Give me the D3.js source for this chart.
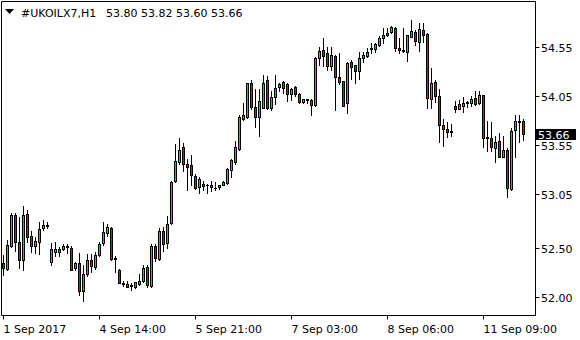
<!DOCTYPE html>
<html>
<head>
<meta charset="utf-8">
<script src="https://cdn.jsdelivr.net/npm/d3@7"></script>
<style>
  body { margin: 0; background: #fff; }
  svg { display: block; }
  text { font-family: "DejaVu Sans", sans-serif; font-size: 11px; fill: #000; }
</style>
</head>
<body>
<svg id="chart" width="580" height="340"></svg>
<script>
// hourly bars, UKOILX7 H1
var symbol = "#UKOILX7,H1";
var lastBar = ["53.80", "53.82", "53.60", "53.66"];

var open = [52.34,52.28,52.52,52.84,52.56,52.38,52.85,52.62,52.52,52.56,52.70,52.72,52.35,52.46,52.46,52.49,52.52,52.50,52.29,52.34,
  52.06,52.23,52.38,52.30,52.43,52.55,52.65,52.70,52.39,52.27,52.14,52.13,52.11,52.10,52.13,52.16,52.30,52.11,52.52,52.39,
  52.67,52.55,52.75,53.18,53.38,53.53,53.36,53.35,53.23,53.12,53.13,53.14,53.14,53.11,53.12,53.14,53.16,53.30,53.38,53.51,
  53.82,53.84,54.19,53.94,53.84,53.93,54.22,53.93,54.04,54.14,54.20,54.17,54.07,54.14,54.07,53.99,54.02,54.01,53.96,54.44,
  54.52,54.49,54.36,54.46,54.25,54.21,53.98,54.40,54.37,54.31,54.44,54.46,54.53,54.53,54.57,54.64,54.68,54.71,54.75,54.54,
  54.52,54.50,54.66,54.71,54.60,54.73,54.69,54.02,54.20,54.05,53.76,53.71,53.68,53.95,53.92,53.95,53.98,53.98,54.03,53.98,
  54.06,53.63,53.62,53.52,53.59,53.43,53.50,53.10,53.70,53.80,53.80];
var high = [52.43,52.58,52.86,52.86,52.81,52.93,52.89,52.67,52.61,52.76,52.78,52.76,52.55,52.56,52.51,52.54,52.54,52.52,52.35,52.45,
  52.32,52.44,52.44,52.46,52.56,52.76,52.74,52.71,52.42,52.28,52.16,52.16,52.14,52.15,52.23,52.32,52.32,52.54,52.54,52.70,
  52.71,52.83,53.18,53.56,53.62,53.57,53.41,53.45,53.25,53.22,53.18,53.15,53.18,53.17,53.14,53.18,53.32,53.41,53.59,53.86,
  53.98,54.19,54.22,54.12,54.12,54.27,54.26,54.10,54.27,54.18,54.21,54.18,54.13,54.15,54.08,54.02,54.02,54.02,54.45,54.55,
  54.64,54.55,54.55,54.47,54.49,54.21,54.40,54.42,54.37,54.50,54.50,54.54,54.59,54.59,54.67,54.75,54.75,54.77,54.76,54.64,
  54.75,54.68,54.83,54.73,54.80,54.80,54.70,54.34,54.22,54.12,53.82,53.79,53.77,54.00,54.01,54.04,54.00,54.05,54.10,54.10,
  54.06,53.80,53.79,53.64,53.67,53.64,53.52,53.72,53.86,53.86,53.82];
var low = [52.22,52.27,52.51,52.47,52.29,52.27,52.56,52.46,52.45,52.44,52.68,52.70,52.32,52.42,52.42,52.48,52.45,52.27,52.27,52.02,
  51.96,52.21,52.25,52.28,52.42,52.53,52.62,52.38,52.25,52.14,52.11,52.10,52.07,52.09,52.12,52.15,52.10,52.10,52.36,52.38,
  52.47,52.50,52.74,53.17,53.36,53.29,53.09,53.14,53.10,53.06,53.09,53.06,53.08,53.09,53.10,53.14,53.15,53.22,53.36,53.50,
  53.81,53.83,53.92,53.74,53.64,53.93,53.92,53.91,53.97,54.10,54.08,54.00,54.01,54.05,53.98,53.98,53.98,53.86,53.95,54.37,
  54.36,54.32,54.32,53.91,54.17,53.95,53.88,54.23,54.18,54.23,54.40,54.45,54.49,54.50,54.56,54.59,54.67,54.70,54.51,54.49,
  54.50,54.41,54.66,54.57,54.51,54.60,53.93,53.93,53.99,53.58,53.54,53.63,53.64,53.89,53.92,53.89,53.94,53.95,53.96,53.97,
  53.53,53.49,53.49,53.38,53.43,53.43,53.02,53.09,53.43,53.58,53.60];
var close = [52.29,52.53,52.84,52.56,52.38,52.84,52.61,52.52,52.57,52.69,52.73,52.73,52.49,52.49,52.49,52.52,52.51,52.27,52.34,52.06,
  52.23,52.38,52.31,52.43,52.54,52.66,52.71,52.39,52.40,52.14,52.13,52.10,52.12,52.15,52.16,52.29,52.12,52.52,52.40,52.67,
  52.54,52.74,53.17,53.39,53.50,53.36,53.33,53.24,53.11,53.20,53.15,53.14,53.12,53.11,53.14,53.17,53.31,53.40,53.53,53.84,
  53.86,54.18,53.94,53.84,54.00,54.19,53.93,54.04,54.13,54.17,54.13,54.07,54.12,54.07,53.99,54.02,54.01,53.96,54.44,54.51,
  54.46,54.36,54.47,54.25,54.20,53.95,54.39,54.35,54.31,54.44,54.47,54.50,54.54,54.58,54.65,54.68,54.70,54.76,54.54,54.52,
  54.51,54.68,54.72,54.61,54.74,54.68,54.03,54.18,54.05,53.76,53.71,53.68,53.69,53.92,53.97,53.98,53.99,54.02,53.97,54.06,
  53.62,53.62,53.53,53.58,53.43,53.50,53.11,53.69,53.80,53.79,53.66];

var priceTicks = [52.00, 52.50, 53.05, 53.55, 54.05, 54.55];
var timeTickBars = [0, 24, 48, 72, 96, 120];
var timeTickLabels = ["1 Sep 2017", "4 Sep 14:00", "5 Sep 21:00", "7 Sep 03:00", "8 Sep 06:00", "11 Sep 09:00"];

var bars = open.map(function(o, i) {
  return { i: i, o: o, h: high[i], l: low[i], c: close[i] };
});

var svg = d3.select("#chart");
var RIGHT = 535.5, BOTTOM = 315.5;

var x = d3.scaleLinear().domain([0, bars.length - 1]).range([3.5, 3.5 + 4 * (bars.length - 1)]);
var y = d3.scaleLinear().domain([52, 54.55]).range([296.7, 47.3]);
function py(v) { return Math.round(y(v)) + 0.5; }

var bullColor = "#22cc22", bearColor = "#dd1111";

var g = svg.append("g");

// wicks
g.selectAll(".wick").data(bars).enter().append("line")
  .attr("x1", function(d) { return x(d.i); })
  .attr("x2", function(d) { return x(d.i); })
  .attr("y1", function(d) { return py(d.h) - 0.5; })
  .attr("y2", function(d) { return py(d.l) + 0.5; })
  .attr("stroke", "#000").attr("stroke-width", 1);

// bodies
bars.forEach(function(d) {
  var top = py(Math.max(d.o, d.c)), bot = py(Math.min(d.o, d.c));
  var cx = x(d.i);
  if (bot - top < 1) {
    g.append("line").attr("x1", cx - 1.5).attr("x2", cx + 1.5)
      .attr("y1", top).attr("y2", top).attr("stroke", "#000");
    return;
  }
  g.append("rect").attr("x", cx - 1.5).attr("y", top - 0.5)
    .attr("width", 3).attr("height", bot - top + 1).attr("fill", "#000");
  if (bot - top >= 2) {
    g.append("rect").attr("x", cx - 0.5).attr("y", top + 0.5)
      .attr("width", 1).attr("height", bot - top - 1)
      .attr("fill", d.c >= d.o ? bullColor : bearColor);
  }
});

// frame
svg.append("path")
  .attr("d", "M1.5," + BOTTOM + "V1.5H" + RIGHT + "V" + BOTTOM + "H1.5")
  .attr("fill", "none").attr("stroke", "#000");

// price axis
var pa = svg.append("g");
priceTicks.forEach(function(p) {
  pa.append("line").attr("x1", RIGHT).attr("x2", RIGHT + 4)
    .attr("y1", py(p)).attr("y2", py(p)).attr("stroke", "#000");
  pa.append("text").attr("x", 541).attr("y", py(p) + 4).text(p.toFixed(2));
});

// last price marker
var lp = +lastBar[3];
pa.append("rect").attr("x", 536).attr("y", py(lp) - 5.5).attr("width", 40).attr("height", 11).attr("fill", "#000");
pa.append("text").attr("x", 538).attr("y", py(lp) + 4).style("fill", "#fff").text(lastBar[3]);

// time axis
var ta = svg.append("g");
timeTickBars.forEach(function(b, k) {
  ta.append("line").attr("x1", x(b)).attr("x2", x(b))
    .attr("y1", BOTTOM).attr("y2", BOTTOM + 4).attr("stroke", "#000");
  ta.append("text").attr("x", x(b)).attr("y", 333).text(timeTickLabels[k]);
});

// header
svg.append("path").attr("d", "M5,9H14L9.5,14Z").attr("fill", "#000");
svg.append("text").attr("x", 21).attr("y", 17).text(symbol);
svg.append("text").attr("x", 106).attr("y", 17).text(lastBar.join(" "));
</script>
</body>
</html>
